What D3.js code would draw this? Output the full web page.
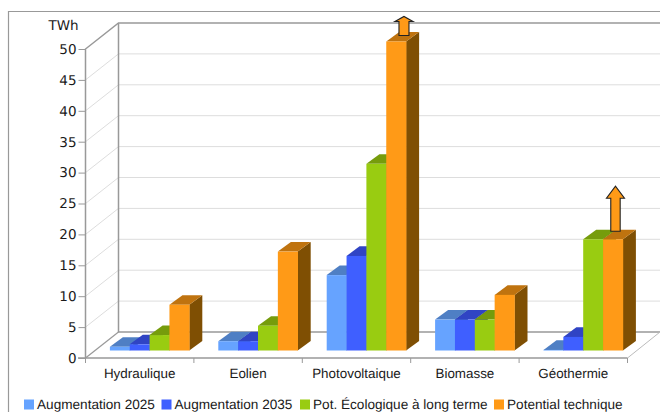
<!DOCTYPE html>
<html lang="en">
<head>
<meta charset="UTF-8">
<title>TWh par filière</title>
<script src="https://d3js.org/d3.v7.min.js"></script>
<style>
    html, body { margin: 0; padding: 0; background: #fff; }
    svg { display: block; }
    text { fill: #1a1a1a; text-rendering: geometricPrecision; }
</style>
</head>
<body>
<svg id="chart" width="660" height="412"></svg>
<script>
const categories = ["Hydraulique", "Eolien", "Photovoltaique", "Biomasse", "Géothermie"];
const seriesNames = ["Augmentation 2025", "Augmentation 2035", "Pot. Écologique à long terme", "Potential technique"];
const augmentation2025 = [0.6, 1.5, 12.2, 5, 0.1];
const augmentation2035 = [1, 1.5, 15.3, 5, 2.2];
const potEcologique = [2.5, 4, 30.2, 5, 18];
const potTechnique = [7.4, 16, 50, 9, 18];
const yTicks = [0, 5, 10, 15, 20, 25, 30, 35, 40, 45, 50];

const seriesValues = [augmentation2025, augmentation2035, potEcologique, potTechnique];
const frontColors = ["#66a3ff", "#3f5fff", "#99cc11", "#ff9a17"];
const topColors = ["#4f7fc4", "#3044c4", "#769c0c", "#bf730f"];
const sideColors = ["#3a5f96", "#22308f", "#566f08", "#7f4f03"];

const svg = d3.select("#chart");
const font = "Liberation Sans, Arial, sans-serif";

const x0 = d3.scaleBand().domain(categories).range([85.5, 627.5]);
const y = d3.scaleLinear().domain([0, 50]).range([358, 49]);
const depth = { x: 33, y: -26 };      // floor to back wall
const barBaseY = 350.5;
const barDepth = { x: 13, y: -9.6 };
const barW = 19.85;
const barStart = c => x0(c) + 24.4;

// outer frame, only top and left show in the crop
svg.append("path").attr("d", "M8.5,412V11.5H660")
    .attr("fill", "none").attr("stroke", "#999").attr("stroke-width", 1.2);

// grid lines on side wall and back wall
const grid = svg.append("g");
yTicks.forEach(t => {
    if (t > 0 && t < 50) {
        grid.append("path")
            .attr("d", `M85.5,${y(t)}L${85.5 + depth.x},${y(t) + depth.y}H660`)
            .attr("fill", "none").attr("stroke", "#ddd");
    }
});

// walls
const wall = svg.append("g").attr("fill", "none").attr("stroke", "#999");
wall.append("path").attr("stroke-width", 1.5)
    .attr("d", `M85.5,${y(0)}V${y(50)}L${85.5 + depth.x},${y(50) + depth.y}H660`);
wall.append("path").attr("stroke-width", 1.5)
    .attr("d", `M${85.5 + depth.x},${y(50) + depth.y}V${y(0) + depth.y}H660`);
wall.append("path").attr("stroke-width", 1.2)
    .attr("d", `M85.5,${y(0)}L${85.5 + depth.x},${y(0) + depth.y}`);
wall.append("path").attr("stroke", "#bbb")
    .attr("d", `M627.5,${y(0)}L660,${y(0) + depth.y}`);
wall.append("path").attr("stroke-width", 1.5)
    .attr("d", `M78,${y(0)}H627.5`);

// axes
const yAxis = d3.axisLeft(y).tickValues(yTicks).tickSize(7).tickPadding(2);
const gy = svg.append("g").attr("transform", "translate(85.5,0)").call(yAxis);
gy.select(".domain").remove();
gy.selectAll("line").attr("stroke", "#999");
gy.selectAll("text").attr("font-family", "DejaVu Sans, sans-serif").attr("font-size", 13.5).attr("fill", "#1a1a1a");

svg.append("text").attr("x", 63.5).attr("y", 30).attr("text-anchor", "middle")
    .attr("font-family", "DejaVu Sans, sans-serif").attr("font-size", 13.5).text("TWh");

const xTickPos = categories.map(c => x0(c)).concat([x0.range()[1]]);
svg.append("g").selectAll("line").data(xTickPos).enter().append("line")
    .attr("x1", d => d).attr("x2", d => d).attr("y1", y(0)).attr("y2", y(0) + 5)
    .attr("stroke", "#999");

svg.append("g").selectAll("text").data(categories).enter().append("text")
    .attr("x", d => x0(d) + x0.bandwidth() / 2)
    .attr("y", 378)
    .attr("text-anchor", "middle")
    .attr("font-family", font).attr("font-size", 13.4)
    .text(d => d);

// bars
const bars = svg.append("g");
categories.forEach((c, ci) => {
    seriesValues.forEach((vals, si) => {
        const left = barStart(c) + si * barW;
        const right = left + barW;
        const top = barBaseY - (y(0) - y(vals[ci]));
        const dx = barDepth.x, dy = barDepth.y;
        bars.append("path").attr("fill", sideColors[si])
            .attr("d", `M${right},${barBaseY}V${top}l${dx},${dy}V${barBaseY + dy}Z`);
        bars.append("path").attr("fill", topColors[si])
            .attr("d", `M${left},${top}l${dx},${dy}H${right + dx}L${right},${top}Z`);
        bars.append("rect").attr("x", left).attr("y", top)
            .attr("width", barW + 0.3).attr("height", barBaseY - top).attr("fill", frontColors[si]);
    });
});

// arrows over the bars that go further than the chart shows
const arrow = d3.line();
const arrowShapes = [
    { cat: "Photovoltaique", shift: 7.8, gap: 6, len: 19, head: 5, hw: 9, sw: 5 },
    { cat: "Géothermie", shift: 2.5, gap: 8, len: 45, head: 12, hw: 9, sw: 4.7 }
];
arrowShapes.forEach(a => {
    const ci = categories.indexOf(a.cat);
    const cx = barStart(a.cat) + 3.5 * barW + a.shift;
    const top = barBaseY - (y(0) - y(potTechnique[ci])) - a.gap;
    const neck = top - a.len + a.head;
    const pts = [[cx - a.sw, top], [cx - a.sw, neck], [cx - a.hw, neck], [cx, top - a.len],
                 [cx + a.hw, neck], [cx + a.sw, neck], [cx + a.sw, top]];
    svg.append("path").attr("d", arrow(pts) + "Z")
        .attr("fill", "#ff9a17").attr("stroke", "#222").attr("stroke-width", 1.1);
});

// legend
const legendX = [24, 161.5, 300, 494];
const legend = svg.append("g").selectAll("g").data(seriesNames).enter().append("g")
    .attr("transform", (d, i) => `translate(${legendX[i]},399.5)`);
legend.append("rect").attr("width", 10).attr("height", 10).attr("fill", (d, i) => frontColors[i]);
legend.append("text").attr("x", 13).attr("y", 9.7)
    .attr("font-family", font).attr("font-size", 13.6).text(d => d);
</script>
</body>
</html>
